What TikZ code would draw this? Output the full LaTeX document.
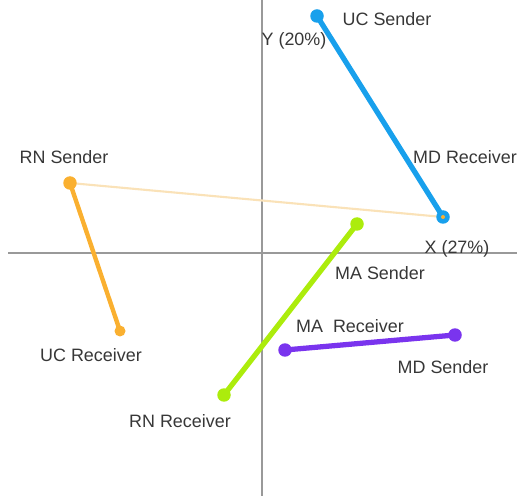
\documentclass[tikz,border=0pt]{standalone}
\usepackage{fontspec}
\setmainfont{Liberation Sans}
\usetikzlibrary{positioning}

\definecolor{ucblue}{RGB}{24,160,236}
\definecolor{rnorange}{RGB}{250,176,48}
\definecolor{malime}{RGB}{172,236,12}
\definecolor{mdpurple}{RGB}{122,52,238}
\definecolor{faintline}{RGB}{250,226,184}
\definecolor{labelgray}{RGB}{55,55,55}

\tikzset{
  axisline/.style={draw=gray!80, line width=0.8pt},
  pairline/.style={line width=3pt, line cap=round},
  dotmark/.style={circle, fill, inner sep=0pt, minimum size=0.27cm},
  lbl/.style={text=labelgray, font=\fontsize{10.2}{12}\selectfont, inner sep=0pt}
}

\begin{document}
\begin{tikzpicture}[x=0.02cm, y=-0.02cm]
      \useasboundingbox (0,0) rectangle (517,496);

      % axes
      \coordinate (ytop) at (262,0);
      \coordinate (ybot) at (262,496);
      \coordinate (xleft) at (8,253);
      \coordinate (xright) at (517,253);
      \draw[axisline] (ytop) -- (ybot);
      \draw[axisline] (xleft) -- (xright);

      % points
      \coordinate (ucs) at (317,16);
      \coordinate (mdr) at (443,217);
      \coordinate (rns) at (70,183);
      \coordinate (ucr) at (120,331);
      \coordinate (mas) at (357,224);
      \coordinate (rnr) at (224,395);
      \coordinate (mar) at (285,350);
      \coordinate (mds) at (455,335);

      % links
      \draw[faintline, line width=1.2pt] (rns) -- (mdr);
      \draw[pairline, ucblue] (ucs) -- (mdr);
      \draw[pairline, rnorange, line width=2.5pt] (rns) -- (ucr);
      \draw[pairline, malime] (mas) -- (rnr);
      \draw[pairline, mdpurple] (mar) -- (mds);

      \node[dotmark, ucblue] at (ucs) {};
      \node[dotmark, ucblue] at (mdr) {};
      \node[circle, fill=rnorange, inner sep=0pt, minimum size=0.08cm] at (mdr) {};
      \node[dotmark, rnorange] at (rns) {};
      \node[dotmark, rnorange, minimum size=0.22cm] at (ucr) {};
      \node[dotmark, malime] at (mas) {};
      \node[dotmark, malime] at (rnr) {};
      \node[dotmark, mdpurple] at (mar) {};
      \node[dotmark, mdpurple] at (mds) {};

      % labels
      \node[lbl] (ucslbl) at (387,19) {UC Sender};
      \node[lbl] (ylbl) at (294,41) {Y (20\%)};
      \node[lbl] (mdrlbl) at (465,157) {MD Receiver};
      \node[lbl] (xlbl) at (457,249) {X (27\%)};
      \node[lbl] (rnslbl) at (64,157) {RN Sender};
      \node[lbl] (ucrlbl) at (91,355) {UC Receiver};
      \node[lbl] (maslbl) at (380,273) {MA Sender};
      \node[lbl] (marlbl) at (350,326) {MA\ \ Receiver};
      \node[lbl] (mdslbl) at (443,367) {MD Sender};
      \node[lbl] (rnrlbl) at (180,421) {RN Receiver};
    \end{tikzpicture}
\end{document}
